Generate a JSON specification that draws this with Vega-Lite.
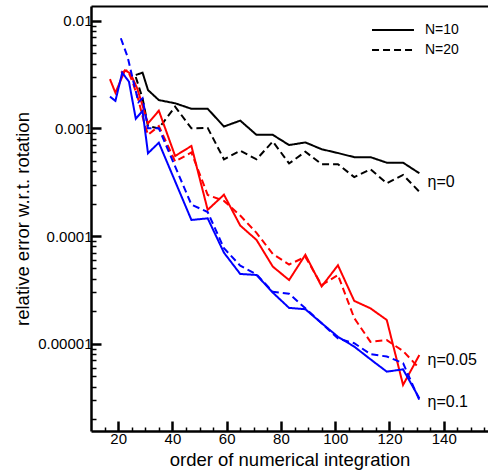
{
  "$schema": "https://vega.github.io/schema/vega-lite/v6.json",
  "width": 397,
  "height": 425,
  "autosize": {"type": "none"},
  "padding": {"left": 91, "top": 6, "right": 0, "bottom": 44},
  "config": {
    "view": {"stroke": null},
    "font": "Liberation Sans",
    "axis": {"grid": false, "domainColor": "#000000", "tickColor": "#000000", "labelColor": "#000000", "titleColor": "#000000", "labelFont": "Liberation Sans", "titleFont": "Liberation Sans", "titleFontWeight": "normal"}
  },
  "datasets": {
    "curves": [
      {"x": 26.5, "v": 3.13e-3, "eta": "η=0", "N": "N=10"},
      {"x": 29, "v": 3.29e-3, "eta": "η=0", "N": "N=10"},
      {"x": 31, "v": 2.27e-3, "eta": "η=0", "N": "N=10"},
      {"x": 35, "v": 1.83e-3, "eta": "η=0", "N": "N=10"},
      {"x": 41, "v": 1.71e-3, "eta": "η=0", "N": "N=10"},
      {"x": 47, "v": 1.52e-3, "eta": "η=0", "N": "N=10"},
      {"x": 53, "v": 1.52e-3, "eta": "η=0", "N": "N=10"},
      {"x": 59, "v": 1.04e-3, "eta": "η=0", "N": "N=10"},
      {"x": 65, "v": 1.18e-3, "eta": "η=0", "N": "N=10"},
      {"x": 71, "v": 8.7e-4, "eta": "η=0", "N": "N=10"},
      {"x": 77, "v": 8.7e-4, "eta": "η=0", "N": "N=10"},
      {"x": 83, "v": 7.0e-4, "eta": "η=0", "N": "N=10"},
      {"x": 89, "v": 7.4e-4, "eta": "η=0", "N": "N=10"},
      {"x": 95, "v": 6.4e-4, "eta": "η=0", "N": "N=10"},
      {"x": 101, "v": 5.9e-4, "eta": "η=0", "N": "N=10"},
      {"x": 107, "v": 5.4e-4, "eta": "η=0", "N": "N=10"},
      {"x": 113, "v": 5.4e-4, "eta": "η=0", "N": "N=10"},
      {"x": 119, "v": 4.8e-4, "eta": "η=0", "N": "N=10"},
      {"x": 125, "v": 4.8e-4, "eta": "η=0", "N": "N=10"},
      {"x": 131, "v": 3.83e-4, "eta": "η=0", "N": "N=10"},

      {"x": 26.5, "v": 3.0e-3, "eta": "η=0", "N": "N=20"},
      {"x": 29, "v": 1.9e-3, "eta": "η=0", "N": "N=20"},
      {"x": 31, "v": 1.05e-3, "eta": "η=0", "N": "N=20"},
      {"x": 35, "v": 1.0e-3, "eta": "η=0", "N": "N=20"},
      {"x": 41, "v": 1.59e-3, "eta": "η=0", "N": "N=20"},
      {"x": 47, "v": 1.0e-3, "eta": "η=0", "N": "N=20"},
      {"x": 53, "v": 1.01e-3, "eta": "η=0", "N": "N=20"},
      {"x": 59, "v": 5.16e-4, "eta": "η=0", "N": "N=20"},
      {"x": 65, "v": 6.2e-4, "eta": "η=0", "N": "N=20"},
      {"x": 71, "v": 5.16e-4, "eta": "η=0", "N": "N=20"},
      {"x": 77, "v": 7.55e-4, "eta": "η=0", "N": "N=20"},
      {"x": 83, "v": 4.72e-4, "eta": "η=0", "N": "N=20"},
      {"x": 89, "v": 6.07e-4, "eta": "η=0", "N": "N=20"},
      {"x": 95, "v": 4.64e-4, "eta": "η=0", "N": "N=20"},
      {"x": 101, "v": 4.64e-4, "eta": "η=0", "N": "N=20"},
      {"x": 107, "v": 3.53e-4, "eta": "η=0", "N": "N=20"},
      {"x": 113, "v": 4.17e-4, "eta": "η=0", "N": "N=20"},
      {"x": 119, "v": 3.09e-4, "eta": "η=0", "N": "N=20"},
      {"x": 125, "v": 3.69e-4, "eta": "η=0", "N": "N=20"},
      {"x": 131, "v": 2.58e-4, "eta": "η=0", "N": "N=20"},

      {"x": 17, "v": 2.86e-3, "eta": "η=0.05", "N": "N=10"},
      {"x": 19, "v": 2.14e-3, "eta": "η=0.05", "N": "N=10"},
      {"x": 22.5, "v": 3.45e-3, "eta": "η=0.05", "N": "N=10"},
      {"x": 24.5, "v": 3.25e-3, "eta": "η=0.05", "N": "N=10"},
      {"x": 27, "v": 2.36e-3, "eta": "η=0.05", "N": "N=10"},
      {"x": 29.5, "v": 1.48e-3, "eta": "η=0.05", "N": "N=10"},
      {"x": 31, "v": 1.11e-3, "eta": "η=0.05", "N": "N=10"},
      {"x": 35, "v": 1.46e-3, "eta": "η=0.05", "N": "N=10"},
      {"x": 41, "v": 5.54e-4, "eta": "η=0.05", "N": "N=10"},
      {"x": 47, "v": 6.86e-4, "eta": "η=0.05", "N": "N=10"},
      {"x": 53, "v": 1.75e-4, "eta": "η=0.05", "N": "N=10"},
      {"x": 59, "v": 2.42e-4, "eta": "η=0.05", "N": "N=10"},
      {"x": 65, "v": 1.25e-4, "eta": "η=0.05", "N": "N=10"},
      {"x": 71, "v": 9.2e-5, "eta": "η=0.05", "N": "N=10"},
      {"x": 77, "v": 5.2e-5, "eta": "η=0.05", "N": "N=10"},
      {"x": 83, "v": 3.9e-5, "eta": "η=0.05", "N": "N=10"},
      {"x": 89, "v": 6.7e-5, "eta": "η=0.05", "N": "N=10"},
      {"x": 95, "v": 3.4e-5, "eta": "η=0.05", "N": "N=10"},
      {"x": 101, "v": 5.35e-5, "eta": "η=0.05", "N": "N=10"},
      {"x": 107, "v": 2.5e-5, "eta": "η=0.05", "N": "N=10"},
      {"x": 113, "v": 2.13e-5, "eta": "η=0.05", "N": "N=10"},
      {"x": 119, "v": 1.66e-5, "eta": "η=0.05", "N": "N=10"},
      {"x": 125, "v": 4.14e-6, "eta": "η=0.05", "N": "N=10"},
      {"x": 131, "v": 7.85e-6, "eta": "η=0.05", "N": "N=10"},

      {"x": 21, "v": 3.29e-3, "eta": "η=0.05", "N": "N=20"},
      {"x": 23.5, "v": 3.48e-3, "eta": "η=0.05", "N": "N=20"},
      {"x": 25.5, "v": 2.62e-3, "eta": "η=0.05", "N": "N=20"},
      {"x": 27.5, "v": 1.83e-3, "eta": "η=0.05", "N": "N=20"},
      {"x": 29.5, "v": 1.15e-3, "eta": "η=0.05", "N": "N=20"},
      {"x": 31, "v": 8.7e-4, "eta": "η=0.05", "N": "N=20"},
      {"x": 35, "v": 1.05e-3, "eta": "η=0.05", "N": "N=20"},
      {"x": 41, "v": 4.92e-4, "eta": "η=0.05", "N": "N=20"},
      {"x": 47, "v": 5.97e-4, "eta": "η=0.05", "N": "N=20"},
      {"x": 53, "v": 2.41e-4, "eta": "η=0.05", "N": "N=20"},
      {"x": 59, "v": 2.12e-4, "eta": "η=0.05", "N": "N=20"},
      {"x": 65, "v": 1.55e-4, "eta": "η=0.05", "N": "N=20"},
      {"x": 71, "v": 1.07e-4, "eta": "η=0.05", "N": "N=20"},
      {"x": 77, "v": 6.8e-5, "eta": "η=0.05", "N": "N=20"},
      {"x": 83, "v": 5.44e-5, "eta": "η=0.05", "N": "N=20"},
      {"x": 89, "v": 6.4e-5, "eta": "η=0.05", "N": "N=20"},
      {"x": 95, "v": 3.5e-5, "eta": "η=0.05", "N": "N=20"},
      {"x": 101, "v": 4.35e-5, "eta": "η=0.05", "N": "N=20"},
      {"x": 107, "v": 1.73e-5, "eta": "η=0.05", "N": "N=20"},
      {"x": 113, "v": 1.04e-5, "eta": "η=0.05", "N": "N=20"},
      {"x": 119, "v": 1.08e-5, "eta": "η=0.05", "N": "N=20"},
      {"x": 125, "v": 8.55e-6, "eta": "η=0.05", "N": "N=20"},
      {"x": 131, "v": 5.9e-6, "eta": "η=0.05", "N": "N=20"},

      {"x": 17, "v": 1.97e-3, "eta": "η=0.1", "N": "N=10"},
      {"x": 19, "v": 1.8e-3, "eta": "η=0.1", "N": "N=10"},
      {"x": 21.5, "v": 3.29e-3, "eta": "η=0.1", "N": "N=10"},
      {"x": 24, "v": 2.71e-3, "eta": "η=0.1", "N": "N=10"},
      {"x": 26.5, "v": 1.23e-3, "eta": "η=0.1", "N": "N=10"},
      {"x": 29, "v": 1.45e-3, "eta": "η=0.1", "N": "N=10"},
      {"x": 31, "v": 5.87e-4, "eta": "η=0.1", "N": "N=10"},
      {"x": 35, "v": 7.36e-4, "eta": "η=0.1", "N": "N=10"},
      {"x": 47, "v": 1.41e-4, "eta": "η=0.1", "N": "N=10"},
      {"x": 53, "v": 1.46e-4, "eta": "η=0.1", "N": "N=10"},
      {"x": 59, "v": 7.0e-5, "eta": "η=0.1", "N": "N=10"},
      {"x": 65, "v": 4.44e-5, "eta": "η=0.1", "N": "N=10"},
      {"x": 71, "v": 4.35e-5, "eta": "η=0.1", "N": "N=10"},
      {"x": 77, "v": 2.98e-5, "eta": "η=0.1", "N": "N=10"},
      {"x": 83, "v": 2.15e-5, "eta": "η=0.1", "N": "N=10"},
      {"x": 89, "v": 2.09e-5, "eta": "η=0.1", "N": "N=10"},
      {"x": 95, "v": 1.55e-5, "eta": "η=0.1", "N": "N=10"},
      {"x": 101, "v": 1.16e-5, "eta": "η=0.1", "N": "N=10"},
      {"x": 107, "v": 9.4e-6, "eta": "η=0.1", "N": "N=10"},
      {"x": 113, "v": 7.16e-6, "eta": "η=0.1", "N": "N=10"},
      {"x": 119, "v": 5.5e-6, "eta": "η=0.1", "N": "N=10"},
      {"x": 125, "v": 5.78e-6, "eta": "η=0.1", "N": "N=10"},
      {"x": 131, "v": 3.11e-6, "eta": "η=0.1", "N": "N=10"},

      {"x": 21, "v": 6.87e-3, "eta": "η=0.1", "N": "N=20"},
      {"x": 23.5, "v": 4.6e-3, "eta": "η=0.1", "N": "N=20"},
      {"x": 25.5, "v": 2.8e-3, "eta": "η=0.1", "N": "N=20"},
      {"x": 27.5, "v": 1.75e-3, "eta": "η=0.1", "N": "N=20"},
      {"x": 29, "v": 1.9e-3, "eta": "η=0.1", "N": "N=20"},
      {"x": 31, "v": 1.0e-3, "eta": "η=0.1", "N": "N=20"},
      {"x": 35, "v": 1.0e-3, "eta": "η=0.1", "N": "N=20"},
      {"x": 47, "v": 1.96e-4, "eta": "η=0.1", "N": "N=20"},
      {"x": 53, "v": 1.67e-4, "eta": "η=0.1", "N": "N=20"},
      {"x": 59, "v": 7.7e-5, "eta": "η=0.1", "N": "N=20"},
      {"x": 65, "v": 5.3e-5, "eta": "η=0.1", "N": "N=20"},
      {"x": 71, "v": 4.4e-5, "eta": "η=0.1", "N": "N=20"},
      {"x": 77, "v": 3.04e-5, "eta": "η=0.1", "N": "N=20"},
      {"x": 83, "v": 2.91e-5, "eta": "η=0.1", "N": "N=20"},
      {"x": 89, "v": 2.13e-5, "eta": "η=0.1", "N": "N=20"},
      {"x": 95, "v": 1.55e-5, "eta": "η=0.1", "N": "N=20"},
      {"x": 101, "v": 1.12e-5, "eta": "η=0.1", "N": "N=20"},
      {"x": 107, "v": 1.01e-5, "eta": "η=0.1", "N": "N=20"},
      {"x": 113, "v": 8.0e-6, "eta": "η=0.1", "N": "N=20"},
      {"x": 119, "v": 7.6e-6, "eta": "η=0.1", "N": "N=20"},
      {"x": 125, "v": 6.6e-6, "eta": "η=0.1", "N": "N=20"},
      {"x": 131, "v": 3.0e-6, "eta": "η=0.1", "N": "N=20"}
    ],
    "notesA": [
      {"x": 134, "v": 3.2e-4, "label": "η=0"},
      {"x": 134, "v": 7.06e-6, "label": "η=0.05"}
    ],
    "notesB": [
      {"x": 134, "v": 2.89e-6, "label": "η=0.1"}
    ]
  },
  "layer": [
    {
      "data": {"name": "curves"},
      "mark": {"type": "line", "strokeWidth": 2},
      "encoding": {
        "x": {"field": "x", "type": "quantitative", "scale": {"domain": [10, 156.3], "nice": false, "zero": false},
          "axis": {"orient": "bottom", "values": [20, 40, 60, 80, 100, 120, 140], "format": "d", "domainWidth": 2.5, "tickWidth": 2.5, "tickSize": -10, "labelFontSize": 15, "labelPadding": 10, "labelFlush": false, "title": "order of numerical integration", "titleFontSize": 18.5, "titlePadding": 4}},
        "y": {"field": "v", "type": "quantitative", "scale": {"type": "log", "domain": [1.546e-6, 0.01369], "nice": false},
          "axis": {"orient": "left", "values": [0.00001, 0.0001, 0.001, 0.01], "format": ".5~f", "domainWidth": 2.5, "tickWidth": 2.5, "tickSize": -10, "labelFontSize": 15, "labelPadding": 9, "title": "relative error w.r.t. rotation", "titleFontSize": 18.5, "titlePadding": 5}},
        "color": {"field": "eta", "type": "nominal", "scale": {"domain": ["η=0", "η=0.05", "η=0.1"], "range": ["#000000", "#ff0000", "#0000ff"]}, "legend": null},
        "strokeDash": {"field": "N", "type": "nominal", "scale": {"domain": ["N=10", "N=20"], "range": [[1, 0], [7, 4]]},
          "legend": {"orient": "none", "legendX": 295, "legendY": 17, "title": null, "symbolType": "M-4,0H4", "symbolSize": 110, "symbolStrokeWidth": 2, "symbolStrokeColor": "#000000", "symbolFillColor": "transparent", "labelFontSize": 14, "labelColor": "#000000", "labelFont": "Liberation Sans", "labelOffset": 25, "rowPadding": 6, "padding": 0}}
      }
    },
    {
      "data": {"name": "notesA"},
      "mark": {"type": "text", "align": "left", "baseline": "middle", "fontSize": 16, "color": "#000000"},
      "encoding": {
        "x": {"field": "x", "type": "quantitative", "scale": {"domain": [10, 156.3], "nice": false, "zero": false},
          "axis": {"orient": "bottom", "values": [15, 25, 30, 35, 45, 50, 55, 65, 70, 75, 85, 90, 95, 105, 110, 115, 125, 130, 135, 145, 150, 155], "labels": false, "domain": false, "tickWidth": 1.5, "tickSize": -4, "title": null}},
        "y": {"field": "v", "type": "quantitative", "scale": {"type": "log", "domain": [1.546e-6, 0.01369], "nice": false},
          "axis": {"orient": "left", "values": [2e-6, 3e-6, 4e-6, 5e-6, 6e-6, 7e-6, 8e-6, 9e-6, 2e-5, 3e-5, 4e-5, 5e-5, 6e-5, 7e-5, 8e-5, 9e-5, 2e-4, 3e-4, 4e-4, 5e-4, 6e-4, 7e-4, 8e-4, 9e-4, 2e-3, 3e-3, 4e-3, 5e-3, 6e-3, 7e-3, 8e-3, 9e-3], "labels": false, "domain": false, "tickWidth": 1.5, "tickSize": -5, "title": null}},
        "text": {"field": "label", "type": "nominal"}
      }
    },
    {
      "data": {"name": "notesB"},
      "mark": {"type": "text", "align": "left", "baseline": "middle", "fontSize": 16, "color": "#000000"},
      "encoding": {
        "x": {"field": "x", "type": "quantitative", "scale": {"domain": [10, 156.3], "nice": false, "zero": false},
          "axis": {"orient": "top", "labels": false, "ticks": false, "domain": true, "domainWidth": 2, "title": null}},
        "y": {"field": "v", "type": "quantitative", "scale": {"type": "log", "domain": [1.546e-6, 0.01369], "nice": false}, "axis": null},
        "text": {"field": "label", "type": "nominal"}
      }
    }
  ],
  "resolve": {"axis": {"x": "independent", "y": "independent"}}
}
